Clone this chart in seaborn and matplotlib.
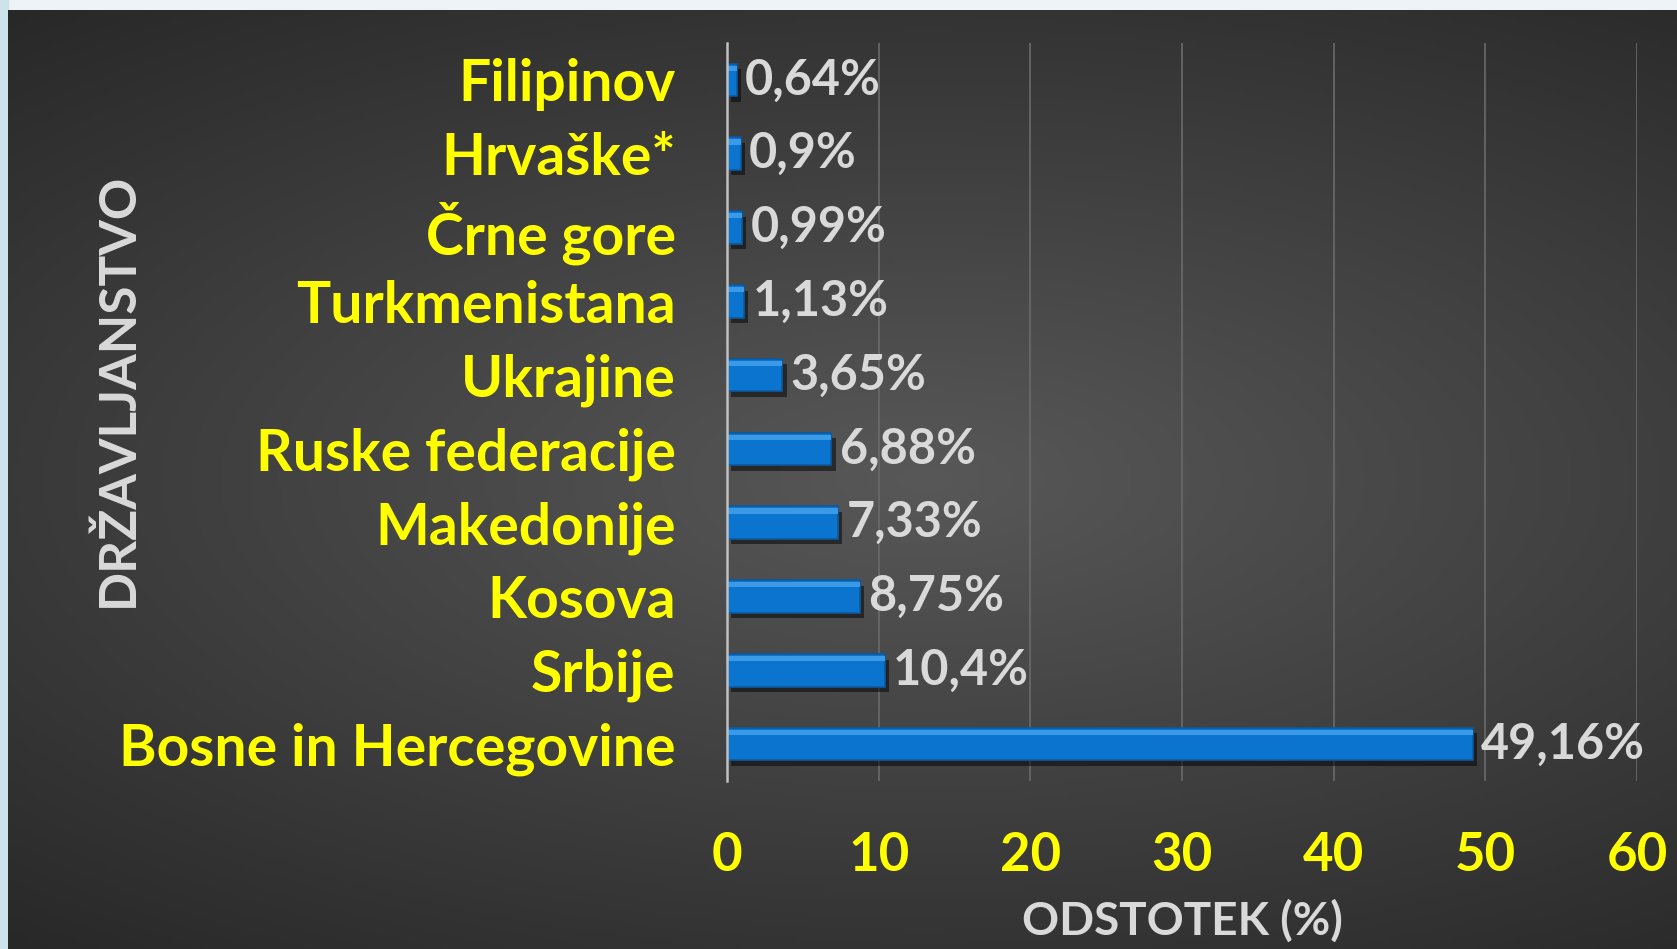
import numpy as np
import seaborn as sns
import matplotlib.pyplot as plt
from matplotlib import patheffects
from matplotlib.patches import Rectangle

countries = ["Filipinov", "Hrvaške*", "Črne gore", "Turkmenistana", "Ukrajine",
             "Ruske federacije", "Makedonije", "Kosova", "Srbije", "Bosne in Hercegovine"]
shares = [0.64, 0.9, 0.99, 1.13, 3.65, 6.88, 7.33, 8.75, 10.4, 49.16]
share_labels = ["0,64%", "0,9%", "0,99%", "1,13%", "3,65%",
                "6,88%", "7,33%", "8,75%", "10,4%", "49,16%"]
x_ticks = [0, 10, 20, 30, 40, 50, 60]

sns.set_theme(style="dark")
plt.rcParams["font.family"] = ["Lato", "DejaVu Sans"]

W, H = 1677, 949
fig = plt.figure(figsize=(W / 100, H / 100), dpi=100, facecolor="#eef3f7")

# slide frame: light left strip + dark radial gradient background
fig.patches.append(Rectangle((0, 0), 8 / W, 1, transform=fig.transFigure,
                             color="#cde2ea", zorder=-20))
bg = fig.add_axes([8 / W, 0, 1 - 8 / W, 1 - 10 / H], zorder=-10)
yy, xx = np.mgrid[0:1:300j, 0:1:500j]
r = np.sqrt(((xx - 0.55) / 0.9) ** 2 + ((yy - 0.5) / 0.7) ** 2)
shade = np.clip(0.345 - 0.2 * r, 0.14, 1)
bg.imshow(np.dstack([shade] * 3), aspect="auto", extent=[0, 1, 0, 1])
bg.set_axis_off()

ax = fig.add_axes([727 / W, 1 - 781 / H, (1637 - 727) / W, (781 - 43) / H])
ax.patch.set_alpha(0)

sns.barplot(x=shares, y=countries, orient="h", color="#0b74cf", width=0.44,
            edgecolor="#0b5aa0", linewidth=1.2, saturation=1, ax=ax)

shadow = [patheffects.SimplePatchShadow(offset=(3, -4), shadow_rgbFace="black", alpha=0.5),
          patheffects.Normal()]
for p in ax.patches:
    p.set_path_effects(shadow)
    # bevel highlight on top edge
    ax.add_patch(Rectangle((p.get_x(), p.get_y() + p.get_height() * 0.06),
                           p.get_width(), p.get_height() * 0.16,
                           color="#3a9ae8", lw=0, zorder=p.get_zorder() + 0.1))

ax.bar_label(ax.containers[0], labels=share_labels, padding=6,
             color="#d9d9d9", fontsize=35, fontweight="bold")

ax.set_xlim(0, 60)
ax.set_ylim(9.5, -0.5)
ax.set_xticks(x_ticks)
ax.xaxis.grid(True, color="#6a6a6a", linewidth=1.2)
ax.yaxis.grid(False)
for side in ["top", "right", "bottom"]:
    ax.spines[side].set_visible(False)
ax.spines["left"].set_color("#c0c0c0")
ax.spines["left"].set_linewidth(1.8)

ax.tick_params(axis="y", length=0, pad=37, labelsize=41, labelcolor="#ffff00")
ax.tick_params(axis="x", length=0, pad=36, labelsize=38, labelcolor="#ffff00")
for t in ax.get_xticklabels() + ax.get_yticklabels():
    t.set_fontweight("bold")

ax.set_xlabel("ODSTOTEK (%)", color="#d9d9d9", fontsize=33, fontweight="bold", labelpad=14)
ax.set_ylabel("")
fig.text(118 / W, 1 - 390 / H, "DRŽAVLJANSTVO", rotation=90, ha="center", va="center",
         color="#d9d9d9", fontsize=37, fontweight="bold")

fig.savefig("out.png", dpi=100, facecolor=fig.get_facecolor())
